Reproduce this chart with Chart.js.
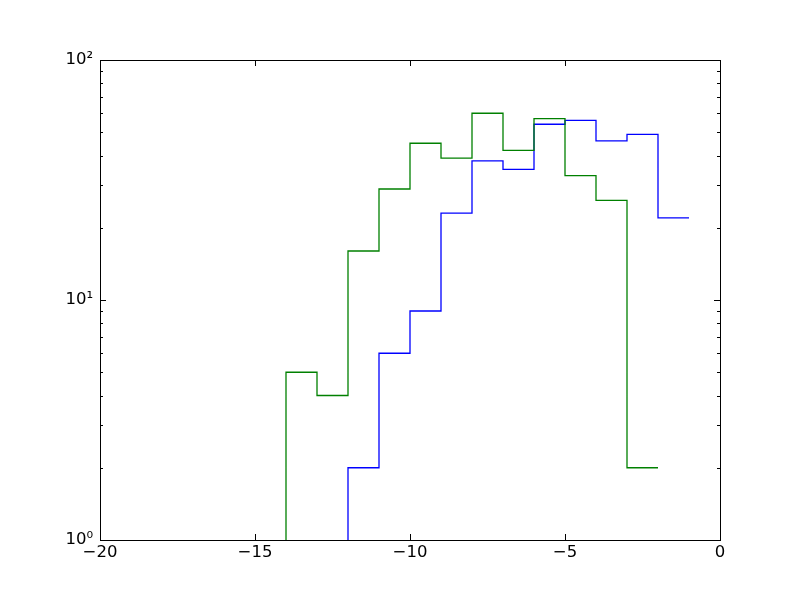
<!DOCTYPE html>
<html>
<head>
<meta charset="UTF-8">
<title>Step histogram</title>
<script src="https://cdn.jsdelivr.net/npm/chart.js"></script>
<style>
    html, body { margin: 0; padding: 0; background: #ffffff; }
    #wrap { width: 800px; height: 600px; }
</style>
</head>
<body>
<div id="wrap"><canvas id="myChart" width="800" height="600"></canvas></div>
<script>
// histogram bin edges and counts
const blueEdges = [-12, -11, -10, -9, -8, -7, -6, -5, -4, -3, -2, -1];
const blueCounts = [2, 6, 9, 23, 38, 35, 54, 56, 46, 49, 22];
const greenEdges = [-14, -13, -12, -11, -10, -9, -8, -7, -6, -5, -4, -3, -2];
const greenCounts = [5, 4, 16, 29, 45, 39, 60, 42, 57, 33, 26, 2];

const xTicks = [-20, -15, -10, -5, 0];
const yTicks = [1, 10, 100];
const yTickLabels = ['10\u2070', '10\u00b9', '10\u00b2'];
const yMinorTicks = [2, 3, 4, 5, 6, 7, 8, 9, 20, 30, 40, 50, 60, 70, 80, 90];

// step outline: rise from the bottom, one point per left edge, close on the last right edge
function stepPoints(edges, counts) {
    const pts = [{x: edges[0], y: 1}];
    counts.forEach((c, i) => pts.push({x: edges[i], y: c}));
    pts.push({x: edges[edges.length - 1], y: counts[counts.length - 1]});
    return pts;
}

// matplotlib-like frame with inward ticks on all four sides
const frameTicks = {
    id: 'frameTicks',
    afterDraw(chart) {
        const ctx = chart.ctx;
        const a = chart.chartArea;
        const xs = chart.scales.x, ys = chart.scales.y;
        ctx.save();
        ctx.strokeStyle = '#000000';
        ctx.lineWidth = 1;
        ctx.beginPath();
        xTicks.forEach(v => {
            const px = Math.round(xs.getPixelForValue(v)) + 0.5;
            ctx.moveTo(px, a.bottom); ctx.lineTo(px, a.bottom - 6);
            ctx.moveTo(px, a.top); ctx.lineTo(px, a.top + 6);
        });
        yTicks.forEach(v => {
            const py = Math.round(ys.getPixelForValue(v)) + 0.5;
            ctx.moveTo(a.left, py); ctx.lineTo(a.left + 6, py);
            ctx.moveTo(a.right, py); ctx.lineTo(a.right - 6, py);
        });
        yMinorTicks.forEach(v => {
            const py = Math.round(ys.getPixelForValue(v)) + 0.5;
            ctx.moveTo(a.left, py); ctx.lineTo(a.left + 3, py);
            ctx.moveTo(a.right, py); ctx.lineTo(a.right - 3, py);
        });
        ctx.stroke();
        ctx.strokeRect(Math.round(a.left) + 0.5, Math.round(a.top) + 0.5,
                       Math.round(a.right - a.left), Math.round(a.bottom - a.top));
        ctx.restore();
    }
};

const ctx = document.getElementById('myChart').getContext('2d');
new Chart(ctx, {
    type: 'line',
    data: {
        datasets: [
            {
                label: 'green',
                data: stepPoints(greenEdges, greenCounts),
                borderColor: '#008000',
                borderWidth: 1.3,
                stepped: 'before',
                pointRadius: 0,
                fill: false,
                order: 0
            },
            {
                label: 'blue',
                data: stepPoints(blueEdges, blueCounts),
                borderColor: '#0000ff',
                borderWidth: 1.3,
                stepped: 'before',
                pointRadius: 0,
                fill: false,
                order: 1
            }
        ]
    },
    options: {
        responsive: false,
        animation: false,
        layout: { padding: { left: 0, top: 60, right: 80, bottom: 0 } },
        plugins: {
            legend: { display: false },
            tooltip: { enabled: false }
        },
        scales: {
            x: {
                type: 'linear',
                min: -20,
                max: 0,
                grid: { display: false, drawTicks: false },
                border: { display: false },
                afterBuildTicks: s => { s.ticks = xTicks.map(v => ({value: v})); },
                afterFit: s => { s.height = 60; },
                ticks: {
                    padding: 3,
                    color: '#000000',
                    font: { family: 'DejaVu Sans', size: 16.5 },
                    maxRotation: 0,
                    callback: v => String(v).replace('-', '\u2212')
                }
            },
            y: {
                type: 'logarithmic',
                min: 1,
                max: 100,
                grid: { display: false, drawTicks: false },
                border: { display: false },
                afterBuildTicks: s => { s.ticks = yTicks.map(v => ({value: v})); },
                afterFit: s => { s.width = 100; },
                ticks: {
                    padding: 7,
                    color: '#000000',
                    font: { family: 'DejaVu Sans', size: 16.5 },
                    callback: v => yTickLabels[yTicks.indexOf(v)]
                }
            }
        }
    },
    plugins: [frameTicks]
});
</script>
</body>
</html>
